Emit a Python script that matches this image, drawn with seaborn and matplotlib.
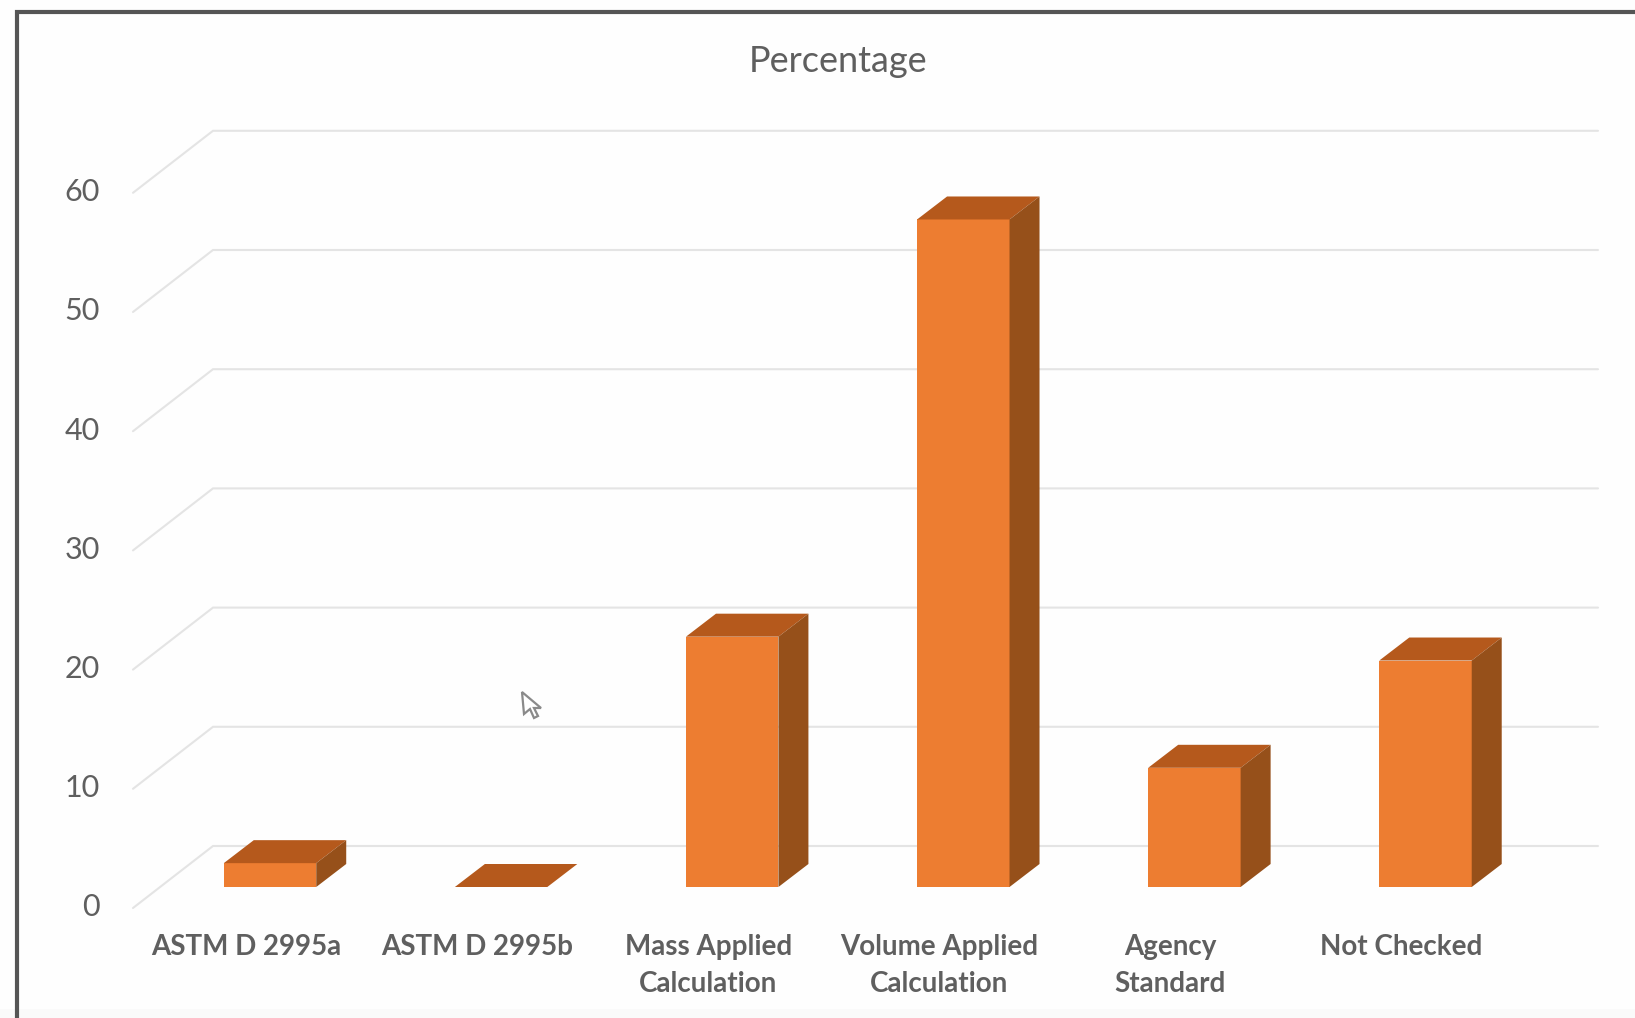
import matplotlib
matplotlib.use("Agg")
import matplotlib.pyplot as plt
import pandas as pd
import seaborn as sns
from matplotlib.lines import Line2D
from matplotlib.patches import Polygon, Rectangle

categories = ["ASTM D 2995a", "ASTM D 2995b", "Mass Applied\nCalculation",
              "Volume Applied\nCalculation", "Agency\nStandard", "Not Checked"]
percentages = [2, 0, 21, 56, 10, 19]
grid_values = [0, 10, 20, 30, 40, 50, 60]
title_text = "Percentage"

FRONT = "#ED7D31"
TOP = "#B5591C"
SIDE = "#96501A"
GRID = "#E4E4E4"
TEXT = "#5F5F5F"
FRAME = "#555555"

W, H = 1635, 1018
PX_X = 231.1    # pixels per category
PX_Y = 11.92    # pixels per percentage point
X0, Y0 = 270.0, 887.0  # pixel position of the first bar centre at value 0

sns.set_theme(style="white")
plt.rcParams["font.family"] = ["Lato", "DejaVu Sans"]

fig = plt.figure(figsize=(W / 100, H / 100), dpi=100, facecolor="#FEFEFE")

# Plot area: left edge is the near edge of the side wall, bottom its near floor corner.
left, right, bottom, top = 133, 1598, 908, 90
ax = fig.add_axes([left / W, 1 - bottom / H, (right - left) / W, (bottom - top) / H])
ax.set_facecolor("none")

df = pd.DataFrame({"method": categories, "pct": percentages})
bar_width = 0.40
sns.barplot(data=df, x="method", y="pct", order=categories, color=FRONT, saturation=1,
            width=bar_width, ax=ax, zorder=3, linewidth=0)

ax.set_xlim((left - X0) / PX_X, (right - X0) / PX_X)
ax.set_ylim((Y0 - bottom) / PX_Y, (Y0 - top) / PX_Y)

# Projection offsets of the pseudo-3D view, in data units.
wall_dx = 80 / PX_X
wall_front = (Y0 - 908) / PX_Y
wall_back = (Y0 - 846) / PX_Y
bar_dx = 30 / PX_X
bar_dy = 23 / PX_Y

x_min, x_max = ax.get_xlim()
for v in grid_values:
    ax.plot([x_min, x_min + wall_dx, x_max], [v + wall_front, v + wall_back, v + wall_back],
            color=GRID, lw=1.5, zorder=1, solid_joinstyle="miter", clip_on=False)

for i, v in enumerate(percentages):
    x_l, x_r = i - bar_width / 2, i + bar_width / 2
    ax.add_patch(Polygon([(x_l, v), (x_r, v), (x_r + bar_dx, v + bar_dy), (x_l + bar_dx, v + bar_dy)],
                         closed=True, facecolor=TOP, edgecolor="none", zorder=3))
    if v > 0:
        ax.add_patch(Polygon([(x_r, 0), (x_r + bar_dx, bar_dy), (x_r + bar_dx, v + bar_dy), (x_r, v)],
                             closed=True, facecolor=SIDE, edgecolor="none", zorder=3))

# Axis labels sit at the near edge of the wall and to the left of each bar.
ax.set_yticks([v - 1.5 for v in grid_values], [str(v) for v in grid_values])
ax.set_xticks([i - 0.104 for i in range(len(categories))], categories)
ax.tick_params(axis="y", length=0, pad=24, labelsize=22, labelcolor=TEXT)
ax.tick_params(axis="x", length=0, pad=19, labelsize=20, labelcolor=TEXT)
for label in ax.get_xticklabels():
    label.set_fontweight("bold")
    label.set_linespacing(1.5)
ax.set_xlabel("")
ax.set_ylabel("")
sns.despine(ax=ax, left=True, bottom=True)

fig.text(838 / W, 1 - 62 / H, title_text, ha="center", va="center", fontsize=26, color=TEXT)

# Window border along the top and left, with a faint band under the window.
fig.add_artist(Rectangle((0, 0), 1, 9 / H, transform=fig.transFigure, facecolor="#FAFAFA", edgecolor="none"))
fig.add_artist(Line2D([17 / W, 17 / W, 1], [0, 1 - 12 / H, 1 - 12 / H], color=FRAME, lw=3,
                      solid_joinstyle="miter", solid_capstyle="butt"))

# Mouse pointer left over the plot.
pointer = [(522, 692), (524, 714), (530, 709), (534, 718), (538, 716), (534, 708), (541, 708)]
fig.add_artist(Polygon([(x / W, 1 - y / H) for x, y in pointer], closed=True,
                       transform=fig.transFigure, facecolor="white", edgecolor="#8A8A8A", lw=1.6))

fig.savefig("out.png", dpi=100)
